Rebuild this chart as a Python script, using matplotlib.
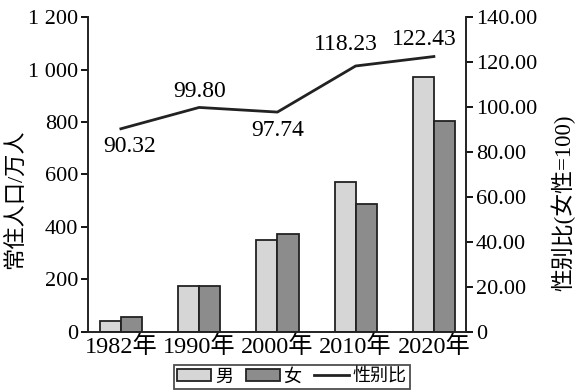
import matplotlib
matplotlib.use("Agg")
import matplotlib.pyplot as plt
import numpy as np
from matplotlib.patches import Patch
from matplotlib.lines import Line2D

plt.rcParams['font.family'] = ['Liberation Serif', 'Noto Sans CJK SC']

years = ["1982年", "1990年", "2000年", "2010年", "2020年"]
male = [42, 175, 350, 571, 971]
female = [57, 175, 373, 488, 804]
ratio = [90.32, 99.80, 97.74, 118.23, 122.43]
ratio_labels = ["90.32", "99.80", "97.74", "118.23", "122.43"]

fig = plt.figure(figsize=(5.81, 3.91), dpi=100)
ax = fig.add_axes([0.1515, 0.151, 0.6505, 0.8055])
x = np.arange(len(years))
w = 0.27
c_m = "#d6d6d6"
c_f = "#8c8c8c"
ax.bar(x - w/2, male, w, color=c_m, edgecolor="#222222", linewidth=1.3)
ax.bar(x + w/2, female, w, color=c_f, edgecolor="#222222", linewidth=1.3)
ax.set_xlim(-0.42, 4.41)
ax.set_ylim(0, 1200)
ax.set_yticks(range(0, 1201, 200))
ax.set_yticklabels(["0", "200", "400", "600", "800", "1 000", "1 200"])
ax.set_xticks(x)
ax.set_xticklabels(years)
ax.tick_params(axis='x', length=0, labelsize=17.5, pad=2)
ax.tick_params(axis='y', length=5, width=1.3, labelsize=16, pad=2)
ax.spines['top'].set_visible(False)
ax.spines['right'].set_visible(False)
for s in ['left', 'bottom']:
    ax.spines[s].set_linewidth(1.4)
    ax.spines[s].set_color("#222222")
ax.set_ylabel("常住人口/万人", fontsize=16)
ax.yaxis.set_label_coords(-0.165, 0.42)

ax2 = ax.twinx()
ax2.plot(x, ratio, color="#222222", linewidth=2)
ax2.set_ylim(0, 140)
ax2.set_yticks(range(0, 141, 20))
ax2.set_yticklabels(["0", "20.00", "40.00", "60.00", "80.00", "100.00", "120.00", "140.00"])
ax2.tick_params(axis='y', length=5, width=1.3, labelsize=16, pad=2)
for s in ['top', 'left', 'bottom']:
    ax2.spines[s].set_visible(False)
ax2.spines['right'].set_linewidth(1.4)
ax2.spines['right'].set_color("#222222")
ax2.set_ylabel("性别比(女性=100)", fontsize=16.5)
ax2.yaxis.set_label_coords(1.226, 0.41)

offsets = [(0.11, -8.1), (0.0, 7.0), (0.0, -8.4), (-0.13, 9.4), (-0.12, 7.4)]
for i, (lab, (dx, dy)) in enumerate(zip(ratio_labels, offsets)):
    ax2.text(x[i] + dx, ratio[i] + dy, lab, ha='center', va='center', fontsize=17)

handles = [Patch(facecolor=c_m, edgecolor="#222222", linewidth=1.3),
           Patch(facecolor=c_f, edgecolor="#222222", linewidth=1.3),
           Line2D([0], [0], color="#222222", linewidth=2)]
leg = fig.legend(handles, ["男", "女", "性别比"], loc='lower center',
                 bbox_to_anchor=(0.502, 0.005), ncol=3, fontsize=13, frameon=True,
                 fancybox=False, edgecolor="#222222", handlelength=1.9,
                 handleheight=0.6, columnspacing=0.7, handletextpad=0.2,
                 borderpad=0.2, borderaxespad=0)
leg.get_frame().set_linewidth(1.3)

fig.savefig("out.png", dpi=100)
